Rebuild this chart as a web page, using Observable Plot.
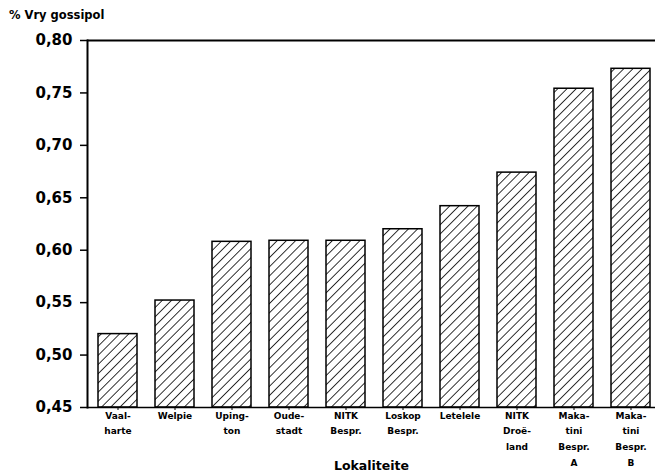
<!DOCTYPE html>
<html><head><meta charset="utf-8">
<script src="https://cdn.jsdelivr.net/npm/d3@7"></script>
<script src="https://cdn.jsdelivr.net/npm/@observablehq/plot@0.6"></script>
<style>
body{margin:0;background:#fff;font-family:"DejaVu Sans",sans-serif;}
#title{height:30px;font-weight:bold;font-size:11.5px;padding:10px 0 0 9px;box-sizing:border-box;color:#000;line-height:1;}
</style></head><body>
<div id="title">% Vry gossipol</div>
<div id="chart"></div>
<script>
const categories = ["Vaal-\nharte","Welpie","Uping-\nton","Oude-\nstadt","NITK\nBespr.","Loskop\nBespr.","Letelele","NITK\nDroë-\nland","Maka-\ntini\nBespr.\nA","Maka-\ntini\nBespr.\nB"];
const values = [0.520, 0.552, 0.608, 0.609, 0.609, 0.620, 0.642, 0.674, 0.754, 0.773];
const yTicks = [0.45,0.50,0.55,0.60,0.65,0.70,0.75,0.80];
const data = categories.map((c,i)=>({cat:c, v:values[i]}));
const fmt = d => d3.format(".2f")(d).replace(".", ",");
const chart = Plot.plot({
  width: 655, height: 444,
  marginLeft: 87, marginRight: 0, marginTop: 10, marginBottom: 67,
  style: {fontFamily: '"DejaVu Sans",sans-serif', fontWeight: "bold", color: "#000", background: "#fff"},
  x: {domain: categories, range: [80.3, 668], padding: 0.31, label: null},
  y: {domain: [0.45, 0.80], label: null},
  marks: [
    Plot.barY(data, {x: "cat", y1: 0.45, y2: "v", fill: "url(#hatch)", stroke: "#000", strokeWidth: 1.5}),
    Plot.ruleY([0.80], {stroke: "#000", strokeWidth: 2}),
    Plot.ruleY([0.45], {stroke: "#000", strokeWidth: 1.5}),
    Plot.frame({anchor: "left", stroke: "#000", strokeWidth: 2}),
    Plot.axisY({ticks: yTicks, tickFormat: fmt, tickSize: 7, tickPadding: 8, fontSize: 15, strokeWidth: 1.5, label: null}),
    Plot.axisX({tickSize: 3, tickPadding: -3, fontSize: 9, lineHeight: 1.75, label: null}),
    Plot.text(["Lokaliteite"], {frameAnchor: "bottom", dy: 62, fontSize: 12.5, fontWeight: "bold"})
  ]
});
const ns = "http://www.w3.org/2000/svg";
const defs = document.createElementNS(ns, "defs");
defs.innerHTML = '<pattern id="hatch" patternUnits="userSpaceOnUse" width="6.5" height="6.5" patternTransform="rotate(45)"><rect width="6.5" height="6.5" fill="#fff"/><line x1="0" y1="0" x2="0" y2="6.5" stroke="#000" stroke-width="1.6"/></pattern>';
chart.insertBefore(defs, chart.firstChild);
document.getElementById("chart").appendChild(chart);
</script>
</body></html>
